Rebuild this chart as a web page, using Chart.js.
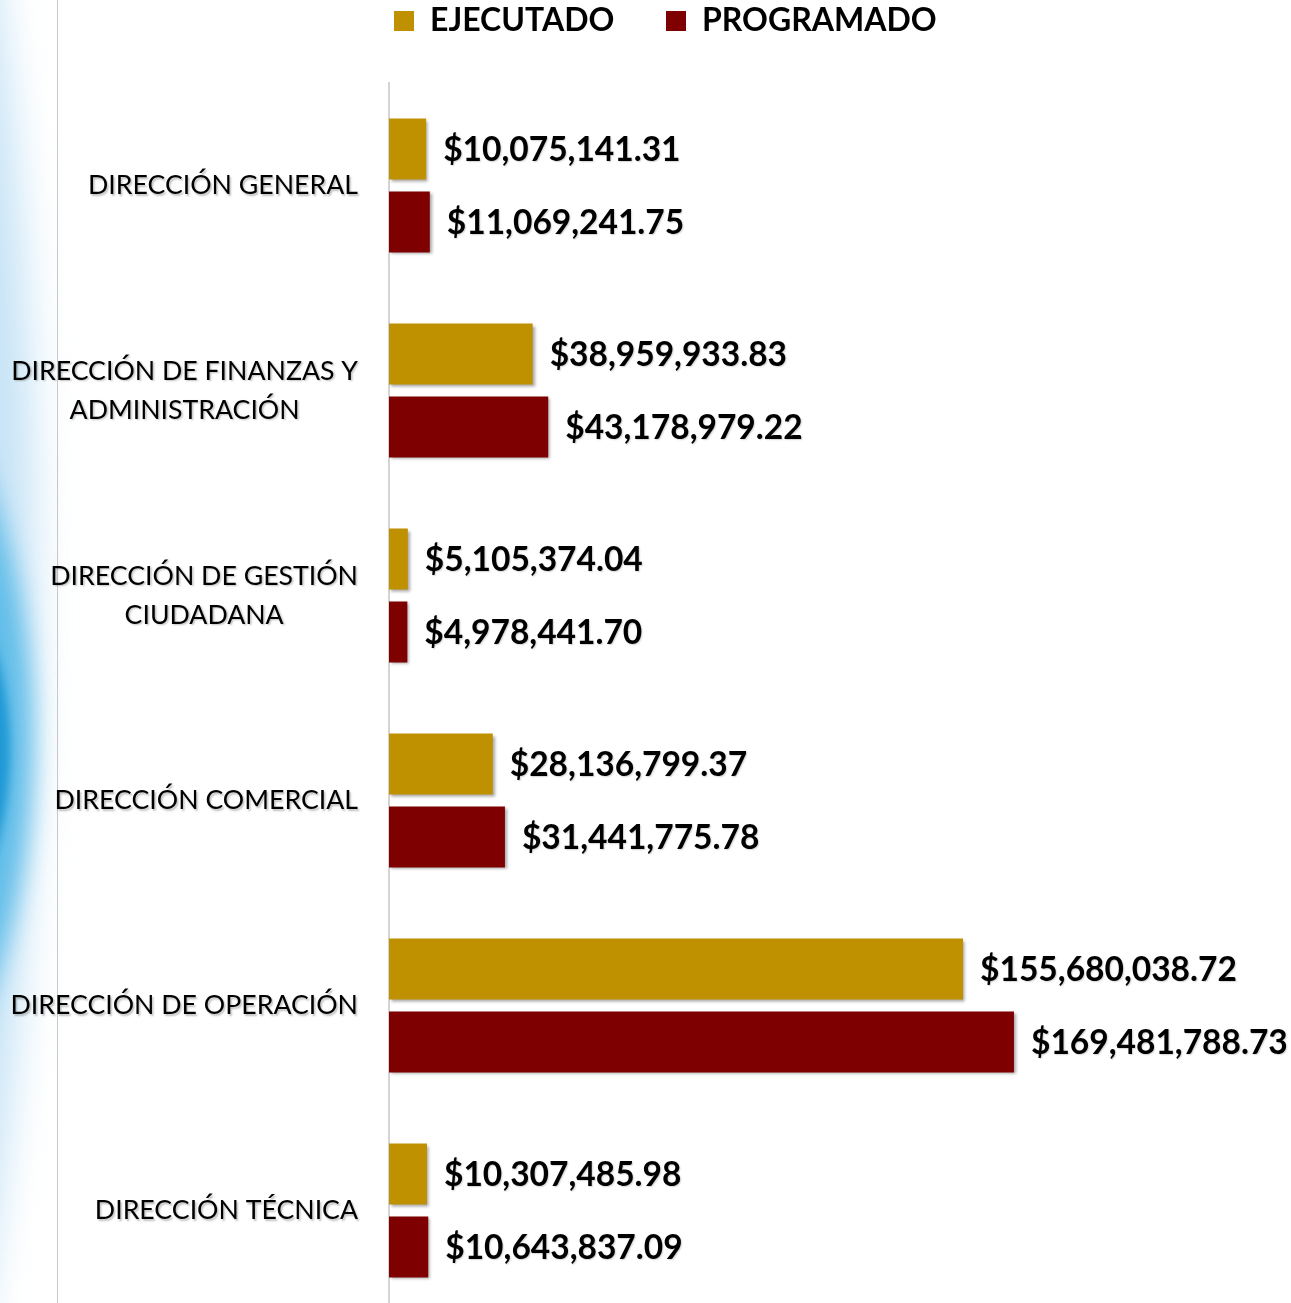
<!DOCTYPE html>
<html>
<head>
<meta charset="utf-8">
<script src="https://cdn.jsdelivr.net/npm/chart.js@4.4.1/dist/chart.umd.min.js"></script>
<style>
  html, body { margin: 0; padding: 0; background: #fff; overflow: hidden; }
  #wrap { position: relative; width: 1291px; height: 1313px; }
</style>
</head>
<body>
<div id="wrap"><canvas id="grafica"></canvas></div>
<script>
// datos
var categorias = [
  'DIRECCIÓN GENERAL',
  ['DIRECCIÓN DE FINANZAS Y', 'ADMINISTRACIÓN'],
  ['DIRECCIÓN DE GESTIÓN', 'CIUDADANA'],
  'DIRECCIÓN COMERCIAL',
  'DIRECCIÓN DE OPERACIÓN',
  'DIRECCIÓN TÉCNICA'
];
var ejecutado = [10075141.31, 38959933.83, 5105374.04, 28136799.37, 155680038.72, 10307485.98];
var programado = [11069241.75, 43178979.22, 4978441.70, 31441775.78, 169481788.73, 10643837.09];

var colorEjecutado = '#BF9000';
var colorProgramado = '#7F0000';

function formatoPesos(v) {
  return '$' + v.toLocaleString('en-US', { minimumFractionDigits: 2, maximumFractionDigits: 2 });
}

// fondo: franja azul a la izquierda y linea gris
var fondo = {
  id: 'fondo',
  beforeDraw: function(chart) {
    var ctx = chart.ctx;
    ctx.save();
    ctx.filter = 'blur(20px)';
    ctx.fillStyle = 'rgba(195,226,245,0.95)';
    ctx.beginPath();
    ctx.ellipse(-190, 600, 225, 1100, 0, 0, Math.PI * 2);
    ctx.fill();
    ctx.filter = 'blur(12px)';
    ctx.fillStyle = '#62bee9';
    ctx.beginPath();
    ctx.ellipse(-250, 740, 282, 480, 0, 0, Math.PI * 2);
    ctx.fill();
    ctx.filter = 'blur(5px)';
    ctx.fillStyle = '#1f98d4';
    ctx.beginPath();
    ctx.ellipse(-300, 750, 310, 330, 0, 0, Math.PI * 2);
    ctx.fill();
    ctx.restore();

    ctx.save();
    ctx.strokeStyle = '#c8c8c8';
    ctx.lineWidth = 1;
    ctx.beginPath();
    ctx.moveTo(57.5, 0);
    ctx.lineTo(57.5, chart.height);
    ctx.stroke();
    ctx.restore();
  },
  beforeDatasetsDraw: function(chart) {
    var ctx = chart.ctx;
    ctx.save();
    ctx.shadowColor = 'rgba(0,0,0,0.35)';
    ctx.shadowOffsetX = 2;
    ctx.shadowOffsetY = 2;
    ctx.shadowBlur = 3;
  },
  afterDatasetsDraw: function(chart) {
    chart.ctx.restore();
  }
};

// etiquetas de categorias y valores
var etiquetas = {
  id: 'etiquetas',
  afterDraw: function(chart) {
    var ctx = chart.ctx;
    var y = chart.scales.y;
    ctx.save();
    ctx.shadowColor = 'rgba(0,0,0,0.25)';
    ctx.shadowOffsetX = 1.5;
    ctx.shadowOffsetY = 1.5;
    ctx.shadowBlur = 2;
    ctx.fillStyle = '#000';
    ctx.textBaseline = 'middle';

    // categorias
    ctx.font = '26.7px Lato';
    chart.data.labels.forEach(function(lab, i) {
      var lineas = Array.isArray(lab) ? lab : [lab];
      var ancho = 0;
      lineas.forEach(function(l) { ancho = Math.max(ancho, ctx.measureText(l).width); });
      var cx = 358 - ancho / 2;
      var yc = y.getPixelForTick(i);
      var alto = 39;
      ctx.textAlign = 'center';
      lineas.forEach(function(l, k) {
        ctx.fillText(l, cx, yc + (k - (lineas.length - 1) / 2) * alto);
      });
    });

    // valores
    ctx.shadowColor = 'rgba(0,0,0,0.18)';
    ctx.shadowOffsetX = 1;
    ctx.shadowOffsetY = 1;
    ctx.shadowBlur = 1.5;
    ctx.font = 'bold 33.5px Lato';
    ctx.textAlign = 'left';
    chart.data.datasets.forEach(function(ds, di) {
      var meta = chart.getDatasetMeta(di);
      meta.data.forEach(function(bar, i) {
        ctx.fillText(formatoPesos(ds.data[i]), bar.x + 17, bar.y + 1);
      });
    });
    ctx.restore();
  }
};

var legendaAltura = {
  id: 'legendaAltura',
  beforeInit: function(chart) {
    var fitOriginal = chart.legend.fit;
    chart.legend.fit = function() {
      fitOriginal.bind(chart.legend)();
      this.height = 83;
    };
  }
};

var ctx = document.getElementById('grafica').getContext('2d');
var grafica = new Chart(ctx, {
  type: 'bar',
  data: {
    labels: categorias,
    datasets: [
      { label: 'EJECUTADO', data: ejecutado, backgroundColor: colorEjecutado, borderWidth: 0,
        categoryPercentage: 0.712, barPercentage: 0.836 },
      { label: 'PROGRAMADO', data: programado, backgroundColor: colorProgramado, borderWidth: 0,
        categoryPercentage: 0.712, barPercentage: 0.836 }
    ]
  },
  options: {
    indexAxis: 'y',
    responsive: true,
    maintainAspectRatio: false,
    animation: false,
    layout: { padding: { left: 389, right: 17, top: 0, bottom: 0 } },
    scales: {
      x: { display: false, min: 0, max: 240000000 },
      y: {
        ticks: { display: false },
        grid: { display: false, drawTicks: false },
        border: { display: true, color: '#d4d4d4', width: 2 }
      }
    },
    plugins: {
      tooltip: { enabled: false },
      legend: {
        position: 'top',
        align: 'start',
        labels: {
          color: '#000',
          boxWidth: 20,
          boxHeight: 20,
          padding: 5,
          font: { family: 'Lato', size: 32, weight: 'bold' },
          generateLabels: function(chart) {
            return chart.data.datasets.map(function(ds, i) {
              return {
                text: i === 0 ? ds.label + '      ' : ds.label,
                fillStyle: ds.backgroundColor,
                strokeStyle: ds.backgroundColor,
                lineWidth: 0,
                hidden: false,
                datasetIndex: i,
                fontColor: '#000'
              };
            });
          }
        }
      }
    }
  },
  plugins: [fondo, etiquetas, legendaAltura]
});
</script>
</body>
</html>
